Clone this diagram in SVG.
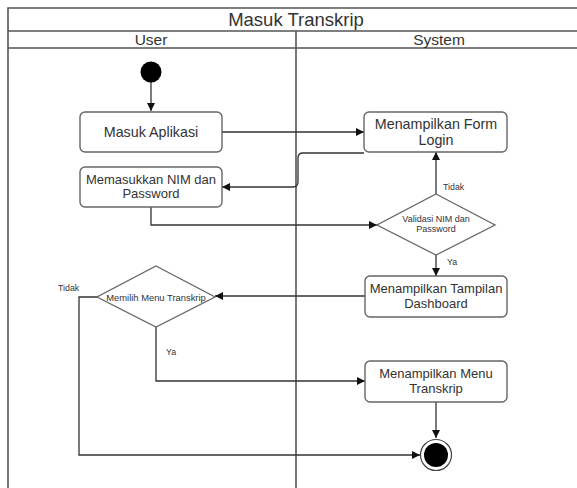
<svg xmlns="http://www.w3.org/2000/svg" width="577" height="488" viewBox="0 0 577 488">
<defs>
<marker id="arr" viewBox="0 0 10 10" refX="10" refY="5" markerWidth="9" markerHeight="8" markerUnits="userSpaceOnUse" orient="auto">
<path d="M0,0 L10,5 L0,10 z" fill="#111"/>
</marker>
<style>
.frame{fill:none;stroke:#555;stroke-width:1.6}
.box{fill:#fff;stroke:#666;stroke-width:1.4}
.dia{fill:#fff;stroke:#666;stroke-width:1.3}
.con{fill:none;stroke:#333;stroke-width:1.3}
.t{font-family:"Liberation Sans",Arial,sans-serif;fill:#333;text-anchor:middle}
.lbl{font-family:"Liberation Sans",Arial,sans-serif;fill:#333;font-size:8.8px}
</style>
</defs>
<rect width="577" height="488" fill="#fff"/>
<g id="frame">
<path class="frame" d="M8,488 V8 H577 M8,31 H577 M8,48 H577 M296,31 V488"/>
<text class="t" x="296" y="26" font-size="18.5">Masuk Transkrip</text>
<text class="t" x="151" y="45" font-size="15.5">User</text>
<text class="t" x="439" y="45" font-size="15.5">System</text>
</g>
<g id="connectors">
<path class="con" d="M151,82 V111" marker-end="url(#arr)"/>
<path class="con" d="M222,132 H364" marker-end="url(#arr)"/>
<path class="con" d="M364,153 H303 Q298,153 298,158 V182 Q298,187 293,187 H222" marker-end="url(#arr)"/>
<path class="con" d="M151,207 V225 H377" marker-end="url(#arr)"/>
<path class="con" d="M436,194 V152" marker-end="url(#arr)"/>
<path class="con" d="M436,255 V276" marker-end="url(#arr)"/>
<path class="con" d="M365,296 H215" marker-end="url(#arr)"/>
<path class="con" d="M156,327 V381 H365" marker-end="url(#arr)"/>
<path class="con" d="M97,297 H79 V455 H420" marker-end="url(#arr)"/>
<path class="con" d="M436,402 V438" marker-end="url(#arr)"/>
<text class="lbl" x="443" y="190">Tidak</text>
<text class="lbl" x="447" y="265">Ya</text>
<text class="lbl" x="58" y="291">Tidak</text>
<text class="lbl" x="166" y="355">Ya</text>
</g>
<g id="start"><circle cx="151" cy="72" r="10.5" fill="#000"/></g>
<g id="masuk-aplikasi">
<rect class="box" x="80" y="112" width="142" height="40" rx="5"/>
<text class="t" x="151" y="137" font-size="14.3">Masuk Aplikasi</text>
</g>
<g id="memasukkan-nim">
<rect class="box" x="80" y="167" width="142" height="40" rx="5"/>
<text class="t" x="151" y="184" font-size="13">Memasukkan NIM dan</text>
<text class="t" x="151" y="198" font-size="13">Password</text>
</g>
<g id="form-login">
<rect class="box" x="364" y="112" width="143" height="40" rx="5"/>
<text class="t" x="436" y="129" font-size="14.3">Menampilkan Form</text>
<text class="t" x="436" y="145" font-size="14.3">Login</text>
</g>
<g id="validasi">
<polygon class="dia" points="436,194 495,225 436,255 377,225"/>
<text class="t" x="436" y="222" font-size="9">Validasi NIM dan</text>
<text class="t" x="436" y="232" font-size="9">Password</text>
</g>
<g id="dashboard">
<rect class="box" x="365" y="276" width="142" height="41" rx="5"/>
<text class="t" x="436" y="293" font-size="13">Menampilkan Tampilan</text>
<text class="t" x="436" y="308" font-size="13">Dashboard</text>
</g>
<g id="memilih-menu">
<polygon class="dia" points="156,266 215,297 156,327 97,297"/>
<text class="t" x="156" y="300.5" font-size="9.4">Memilih Menu Transkrip</text>
</g>
<g id="menu-transkrip">
<rect class="box" x="365" y="361" width="142" height="41" rx="5"/>
<text class="t" x="436" y="378" font-size="13">Menampilkan Menu</text>
<text class="t" x="436" y="393" font-size="13">Transkrip</text>
</g>
<g id="end">
<circle cx="436" cy="455" r="15.5" fill="#fff" stroke="#444" stroke-width="1.2"/>
<circle cx="436" cy="455" r="12" fill="#000"/>
</g>
</svg>
